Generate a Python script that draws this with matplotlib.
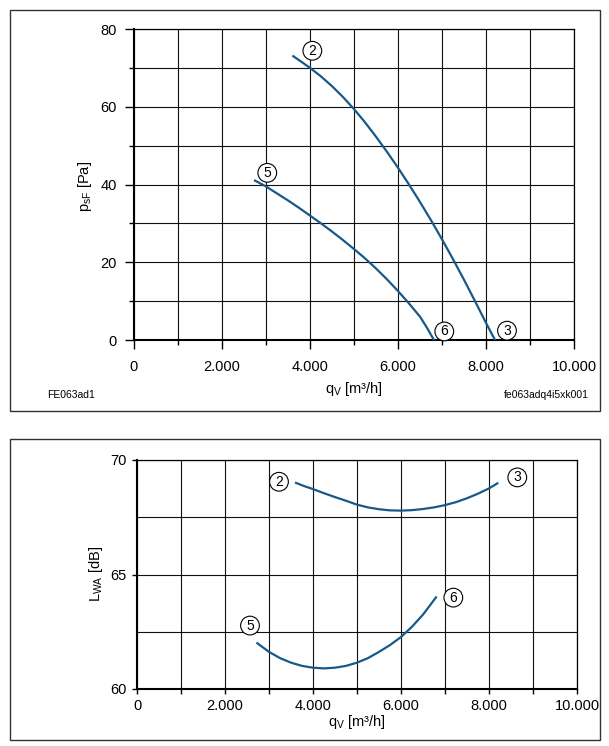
import numpy as np
import matplotlib
matplotlib.use('Agg')
import matplotlib.pyplot as plt
from matplotlib.patches import Rectangle

plt.rcParams['font.family'] = ['Liberation Sans', 'DejaVu Sans']
plt.rcParams['mathtext.fontset'] = 'custom'
plt.rcParams['mathtext.rm'] = 'Liberation Sans'
plt.rcParams['mathtext.default'] = 'regular'

# pressure curves (q in m3/h, p in Pa)
q_23 = [3620, 3800, 4000, 4250, 4500, 4750, 5000, 5250, 5500, 5750, 6000,
        6250, 6500, 6750, 7000, 7250, 7500, 7750, 8000, 8205]
p_23 = [73.0, 71.6, 70.0, 67.8, 65.3, 62.5, 59.4, 56.0, 52.3, 48.4, 44.3,
        40.0, 35.5, 30.8, 25.9, 20.8, 15.5, 10.0, 4.4, 0.0]
q_56 = [2750, 3000, 3250, 3500, 3750, 4000, 4250, 4500, 4750, 5000, 5250,
        5500, 5750, 6000, 6250, 6500, 6650, 6818]
p_56 = [41.0, 39.5, 37.7, 35.9, 34.0, 32.0, 30.0, 27.9, 25.7, 23.4, 21.0,
        18.4, 15.6, 12.6, 9.4, 6.0, 3.3, 0.0]

# sound power curves (q in m3/h, L in dB)
q_23s = [3614, 3800, 4000, 4250, 4500, 4750, 5000, 5250, 5500, 5750, 6000,
         6250, 6500, 6750, 7000, 7250, 7500, 7750, 8000, 8189]
L_23s = [69.0, 68.86, 68.73, 68.55, 68.38, 68.22, 68.05, 67.93, 67.85, 67.80, 67.79,
         67.81, 67.86, 67.93, 68.03, 68.16, 68.33, 68.53, 68.76, 68.98]
q_56s = [2735, 3000, 3250, 3500, 3750, 4000, 4250, 4500, 4750, 5000, 5250,
         5500, 5750, 6000, 6250, 6500, 6795]
L_56s = [62.0, 61.62, 61.35, 61.15, 61.01, 60.93, 60.9, 60.93, 61.01, 61.15, 61.35,
         61.62, 61.92, 62.27, 62.72, 63.25, 64.0]

# point markers
top_marks = {'2': (4053, 74.4), '5': (3029, 43.0), '6': (7052, 2.2), '3': (8477, 2.4)}
bot_marks = {'2': (3227, 69.05), '3': (8643, 69.24), '5': (2568, 62.77), '6': (7189, 63.99)}

x_major = [0, 2000, 4000, 6000, 8000, 10000]
x_labels = ['0', '2.000', '4.000', '6.000', '8.000', '10.000']
x_minor = [1000, 3000, 5000, 7000, 9000]

W, H = 609, 746
fig = plt.figure(figsize=(W / 100, H / 100), dpi=100)

blue = '#18598a'


def px_axes(l, t, r, b):
    return fig.add_axes([l / W, 1 - b / H, (r - l) / W, (b - t) / H])


def style(ax, ticklen, minorlen, pad):
    ax.set_xlim(0, 10000)
    ax.set_xticks(x_major)
    ax.set_xticklabels(x_labels)
    ax.set_xticks(x_minor, minor=True)
    ax.grid(True, which='both', color='#111111', lw=0.8)
    ax.set_axisbelow(True)
    ax.tick_params(which='major', length=ticklen, width=1.0, pad=pad, labelsize=10.5, color='black')
    ax.tick_params(which='minor', length=minorlen, width=1.0, color='black')
    for s in ['left', 'bottom']:
        ax.spines[s].set_linewidth(1.5)
    for s in ['top', 'right']:
        ax.spines[s].set_linewidth(0.9)


def mark(ax, d):
    for k, (x, y) in d.items():
        ax.text(x, y, k, fontsize=10, ha='center', va='center', zorder=5,
                bbox=dict(boxstyle='circle,pad=0.17', fc='white', ec='black', lw=0.8))


# frames
fig.patches.append(Rectangle((10 / W, 1 - 411 / H), 590 / W, 401 / H, transform=fig.transFigure,
                             fill=False, ec='#333333', lw=1.0))
fig.patches.append(Rectangle((10 / W, 1 - 740 / H), 590 / W, 301 / H, transform=fig.transFigure,
                             fill=False, ec='#333333', lw=1.0))

# top chart
ax1 = px_axes(134, 29, 574, 340)
style(ax1, 6.5, 3.5, 8)
ax1.set_ylim(0, 80)
ax1.set_yticks([0, 20, 40, 60, 80])
ax1.set_yticks([10, 30, 50, 70], minor=True)
ax1.tick_params(axis='y', which='major', pad=6)
ax1.plot(q_23, p_23, color=blue, lw=1.6, zorder=4)
ax1.plot(q_56, p_56, color=blue, lw=1.6, zorder=4)
mark(ax1, top_marks)
fig.text(85 / W, 1 - 186 / H, r'p$_{sF}$ [Pa]', rotation=90, ha='center', va='center', fontsize=10.5)
fig.text(354 / W, 1 - 389 / H, r'q$_V$ [m³/h]', ha='center', va='center', fontsize=10.5)
fig.text(47 / W, 1 - 395 / H, 'FE063ad1', ha='left', va='center', fontsize=7.5)
fig.text(589 / W, 1 - 395 / H, 'fe063adq4i5xk001', ha='right', va='center', fontsize=7.5)

# bottom chart
ax2 = px_axes(137, 460, 577, 689)
style(ax2, 3.5, 3.5, 4)
ax2.set_ylim(60, 70)
ax2.set_yticks([60, 65, 70])
ax2.set_yticks([62.5, 67.5], minor=True)
ax2.tick_params(axis='y', which='minor', length=0)
ax2.plot(q_23s, L_23s, color=blue, lw=1.6, zorder=4)
ax2.plot(q_56s, L_56s, color=blue, lw=1.6, zorder=4)
mark(ax2, bot_marks)
fig.text(96 / W, 1 - 574 / H, r'L$_{WA}$ [dB]', rotation=90, ha='center', va='center', fontsize=10.5)
fig.text(357 / W, 1 - 722 / H, r'q$_V$ [m³/h]', ha='center', va='center', fontsize=10.5)

fig.savefig('out.png', dpi=100)
